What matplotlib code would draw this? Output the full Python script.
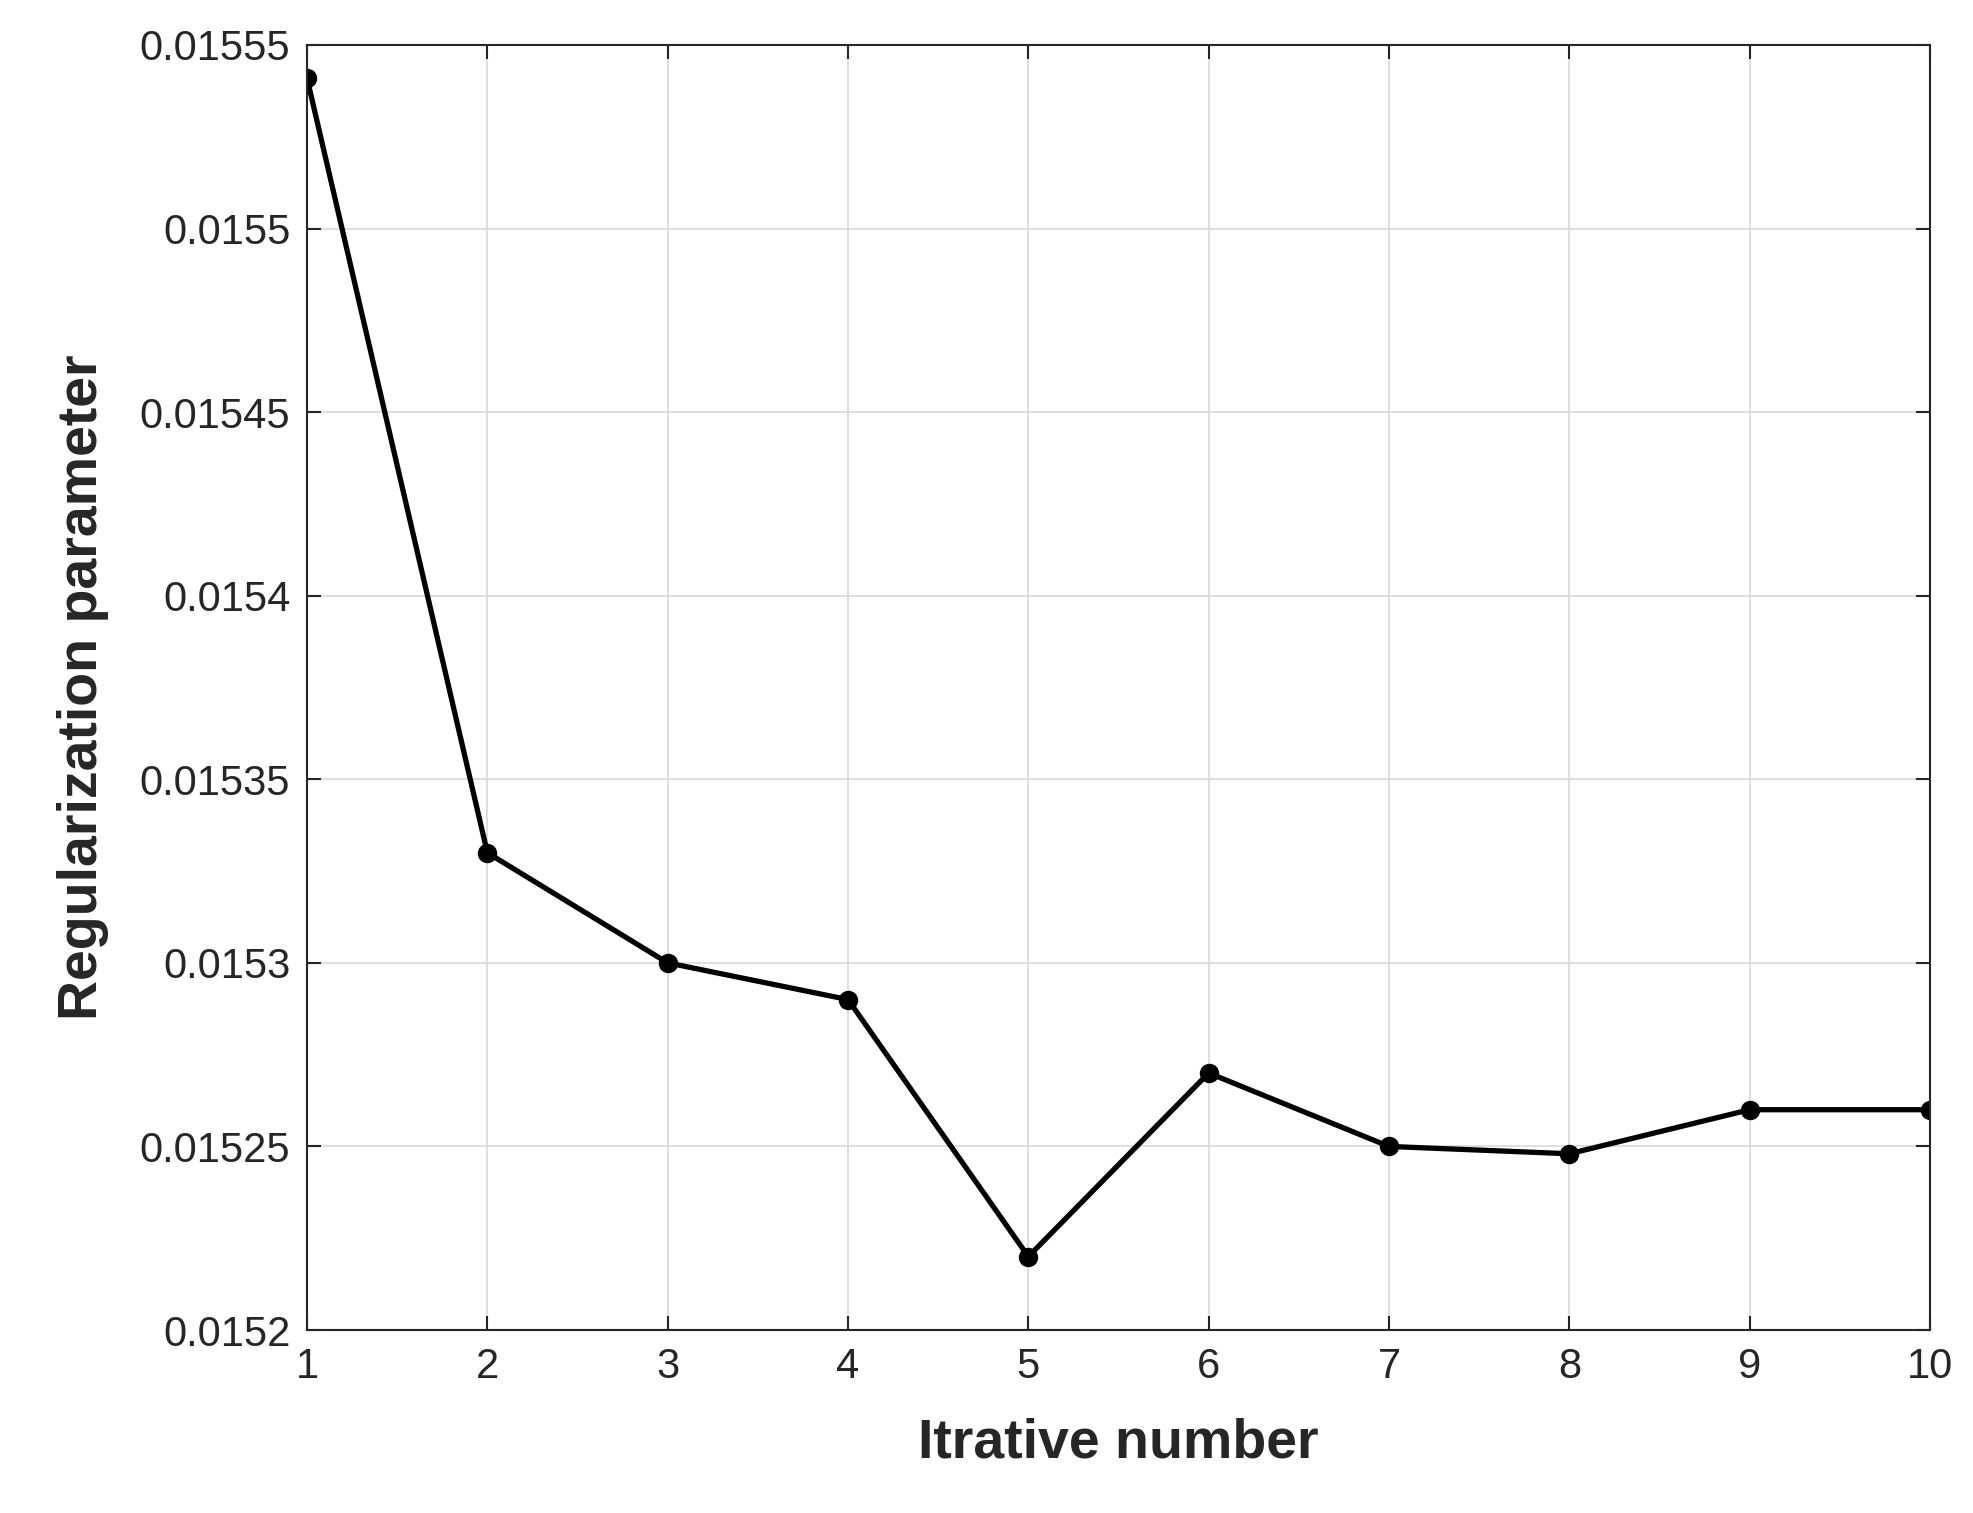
import matplotlib.pyplot as plt

plt.rcParams['font.family'] = ['Liberation Sans', 'DejaVu Sans']

iterations = [1, 2, 3, 4, 5, 6, 7, 8, 9, 10]
reg_param = [0.015541, 0.01533, 0.01530, 0.01529, 0.01522, 0.01527,
             0.01525, 0.015248, 0.01526, 0.01526]
y_ticks = [0.0152, 0.01525, 0.0153, 0.01535, 0.0154, 0.01545, 0.0155, 0.01555]
y_labels = ["0.0152", "0.01525", "0.0153", "0.01535", "0.0154", "0.01545", "0.0155", "0.01555"]

fig = plt.figure(figsize=(19.74, 15.13), dpi=100)
ax = fig.add_axes([307 / 1974, 1 - 1330 / 1513, (1930 - 307) / 1974, (1330 - 45) / 1513])

ax.plot(iterations, reg_param, color="black", linewidth=3.8, marker="o", markersize=13)

ax.set_xlim(1, 10)
ax.set_ylim(0.0152, 0.01555)
ax.set_xticks(iterations)
ax.set_yticks(y_ticks)
ax.set_yticklabels(y_labels)
ax.grid(True, color="#d9d9d9", linewidth=1.2)
ax.tick_params(labelsize=30, direction="in", length=10, width=1.5, colors="#262626",
               top=True, right=True, pad=12)
for s in ax.spines.values():
    s.set_linewidth(1.5)
    s.set_color("#262626")

ax.set_xlabel("Itrative number", fontsize=40, fontweight="bold", color="#262626", labelpad=22)
ax.set_ylabel("Regularization parameter", fontsize=40, fontweight="bold", color="#262626", labelpad=22)

fig.savefig("out.png", dpi=100)
